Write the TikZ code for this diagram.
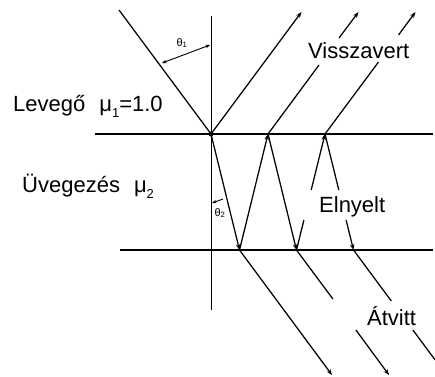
\documentclass[tikz,border=0pt]{standalone}
\usepackage{fontspec}
\setmainfont{Liberation Sans}
\usetikzlibrary{arrows.meta}
\newcommand\lowsub[1]{\raisebox{-0.28em}{\fontsize{13}{13}\selectfont #1}}
\begin{document}
\begin{tikzpicture}[x=1pt,y=-1pt,
  ray/.style={line width=1.25pt,-{Stealth[length=6pt,width=4.5pt]}},
  seg/.style={line width=1.25pt},
  surface/.style={line width=2pt},
  normalline/.style={line width=1pt},
  lbl/.style={font=\fontsize{22}{26}\selectfont, anchor=base west, inner sep=0pt},
  ang/.style={font=\fontsize{11}{12}\selectfont, inner sep=0pt},
  angarrow/.style={line width=0.9pt}]
\useasboundingbox (0,0) rectangle (435,376);
\clip (0,0) rectangle (435,376);
% key points
\coordinate (inc) at (119,10);
\coordinate (A) at (211,134);
\coordinate (B1) at (239.5,250);
\coordinate (T1) at (268,134);
\coordinate (B2) at (296.5,250);
\coordinate (T2) at (325,134);
\coordinate (B3) at (353.5,250);
% surfaces and normal
\coordinate (s1w) at (95,134);  \coordinate (s1e) at (433,134);
\coordinate (s2w) at (120,250); \coordinate (s2e) at (433,250);
\coordinate (nt) at (211,16);   \coordinate (nb) at (211,310);
\draw[surface] (s1w) -- (s1e);
\draw[surface] (s2w) -- (s2e);
\draw[normalline] (nt) -- (nb);
% incident ray
\draw[seg] (inc) -- (A);
\fill (A) circle (2.6pt);
% reflected rays
\coordinate (R0) at (301.5,12);
\draw[ray] (A) -- (R0);
\coordinate (R1a) at (319,65); \coordinate (R1b) at (339,38); \coordinate (R1) at (358.5,12);
\draw[seg] (T1) -- (R1a);
\draw[ray] (R1b) -- (R1);
\coordinate (R2a) at (378.5,62); \coordinate (R2b) at (398.5,35); \coordinate (R2) at (415.5,12);
\draw[seg] (T2) -- (R2a);
\draw[ray] (R2b) -- (R2);
% rays inside the glazing
\draw[ray] (A) -- (B1);
\draw[ray] (B1) -- (T1);
\draw[ray] (T1) -- (B2);
\coordinate (G1a) at (303.9,220); \coordinate (G1b) at (311.2,190);
\draw[seg] (B2) -- (G1a);
\draw[ray] (G1b) -- (T2);
\coordinate (G2a) at (338.8,190); \coordinate (G2b) at (346.1,220);
\draw[seg] (T2) -- (G2a);
\draw[ray] (G2b) -- (B3);
% transmitted rays
\coordinate (X1) at (332,375);
\draw[ray] (B1) -- (X1);
\coordinate (X2a) at (332.9,299); \coordinate (X2b) at (355.9,330); \coordinate (X2) at (389,375);
\draw[seg] (B2) -- (X2a);
\draw[ray] (X2b) -- (X2);
\coordinate (X3a) at (391.3,301); \coordinate (X3b) at (412.9,330); \coordinate (X3) at (435,359.8);
\draw[seg] (B3) -- (X3a);
\draw[seg] (X3b) -- (X3);
% angles
\coordinate (th1a) at (162,63); \coordinate (th1b) at (210,45);
\draw[angarrow,{Stealth[length=4.5pt,width=3.5pt]}-{Stealth[length=4.5pt,width=3.5pt]}] (th1a) -- (th1b);
\node[ang] (th1) at (182,43) {θ\textsubscript{1}};
\coordinate (th2a) at (223,199); \coordinate (th2b) at (212,203);
\draw[angarrow,-{Stealth[length=4.5pt,width=3.5pt]}] (th2a) -- (th2b);
\node[ang] (th2) at (220,213) {θ\textsubscript{2}};
% labels
\node[lbl] (air) at (13,111) {Levegő\hspace{14pt}μ\lowsub{1}=1.0};
\node[lbl] (glass) at (22,192) {Üvegezés\hspace{14pt}μ\lowsub{2}};
\node[lbl] (refl) at (308,58) {Visszavert};
\node[lbl] (abs) at (319,212) {Elnyelt};
\node[lbl] (trans) at (367,325) {Átvitt};
\end{tikzpicture}
\end{document}
